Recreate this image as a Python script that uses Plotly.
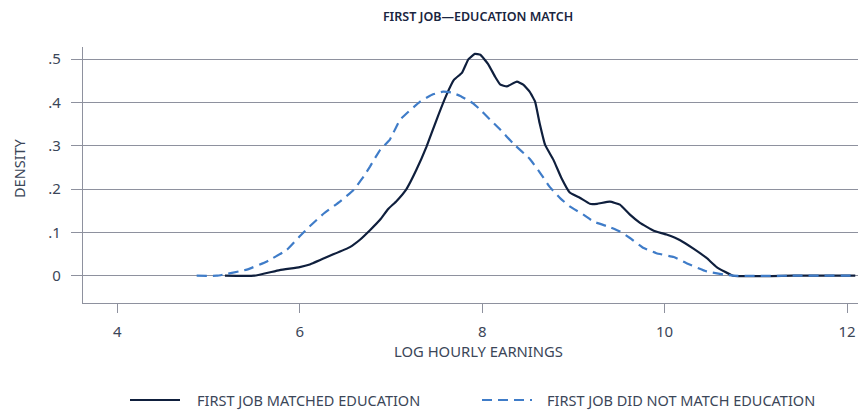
import plotly.graph_objects as go

# Kernel density of log hourly earnings, by whether the first job matched education
matched_x = [5.18, 5.5, 5.78, 6.0, 6.11, 6.33, 6.55, 6.66, 6.77, 6.88, 6.97, 7.06, 7.17,
             7.28, 7.39, 7.5, 7.61, 7.69, 7.78, 7.85, 7.92, 7.98, 8.07, 8.14, 8.2, 8.27,
             8.38, 8.45, 8.52, 8.58, 8.63, 8.69, 8.78, 8.87, 8.96, 9.07, 9.18, 9.26, 9.4,
             9.51, 9.62, 9.73, 9.88, 10.02, 10.17, 10.32, 10.46, 10.57, 10.75, 11.4, 12.09]
matched_y = [0.0, 0.0, 0.013, 0.02, 0.026, 0.046, 0.066, 0.083, 0.105, 0.129, 0.154, 0.172,
             0.2, 0.245, 0.298, 0.36, 0.418, 0.452, 0.469, 0.5, 0.512, 0.51, 0.487, 0.46,
             0.441, 0.437, 0.448, 0.441, 0.425, 0.402, 0.352, 0.302, 0.268, 0.225, 0.192,
             0.18, 0.166, 0.166, 0.171, 0.164, 0.141, 0.122, 0.104, 0.095, 0.082, 0.062,
             0.041, 0.02, 0.0, 0.0, 0.0]

unmatched_x = [4.87, 5.09, 5.42, 5.64, 5.86, 6.0, 6.11, 6.26, 6.44, 6.59, 6.7, 6.77, 6.88,
               6.99, 7.1, 7.32, 7.45, 7.57, 7.66, 7.76, 7.9, 7.98, 8.05, 8.2, 8.34, 8.52,
               8.65, 8.74, 8.86, 8.96, 9.11, 9.22, 9.4, 9.51, 9.62, 9.77, 9.91, 10.1, 10.24,
               10.46, 10.75, 11.4, 12.07]
unmatched_y = [0.0, 0.0, 0.014, 0.033, 0.06, 0.091, 0.114, 0.143, 0.171, 0.198, 0.229, 0.252,
               0.29, 0.315, 0.36, 0.402, 0.418, 0.425, 0.423, 0.415, 0.398, 0.383, 0.368,
               0.337, 0.305, 0.27, 0.233, 0.205, 0.178, 0.16, 0.141, 0.125, 0.112, 0.102,
               0.087, 0.064, 0.052, 0.043, 0.029, 0.01, 0.0, 0.0, 0.0]

x_ticks = [4, 6, 8, 10, 12]
y_ticks = [0, 0.1, 0.2, 0.3, 0.4, 0.5]
y_tick_text = ["0", ".1", ".2", ".3", ".4", ".5"]

series_names = ["FIRST JOB MATCHED EDUCATION", "FIRST JOB DID NOT MATCH EDUCATION"]

FONT = "Noto Sans"
TEXT = "#3b4658"
GRID = "#8e919e"
NAVY = "#0f1f3d"
BLUE = "#3f7cc8"
DASH = "10px,6px"

W, H = 862, 412
ML, MR, MT, MB = 83, 4, 47, 109
PW, PH = W - ML - MR, H - MT - MB


def px_x(p):
    # pixel column -> paper x
    return (p - ML) / PW


def px_y(p):
    # pixel row -> paper y
    return (H - MB - p) / PH


fig = go.Figure()
fig.add_trace(go.Scatter(
    x=matched_x, y=matched_y, mode="lines", name=series_names[0],
    line=dict(color=NAVY, width=2.2, shape="spline", smoothing=0.35),
))
fig.add_trace(go.Scatter(
    x=unmatched_x, y=unmatched_y, mode="lines", name=series_names[1],
    line=dict(color=BLUE, width=2.2, dash=DASH, shape="spline", smoothing=0.35),
))

# Legend row below the axis title
legend_y = px_y(400)
legend_items = [
    (130, 180, 195, NAVY, "solid", series_names[0]),
    (482, 532, 545, BLUE, DASH, series_names[1]),
]
for x0, x1, xt, color, dash, label in legend_items:
    fig.add_shape(type="line", xref="paper", yref="paper",
                  x0=px_x(x0), x1=px_x(x1), y0=legend_y, y1=legend_y,
                  line=dict(color=color, width=2.2, dash=dash))
    fig.add_annotation(text=label, xref="paper", yref="paper", x=px_x(xt), y=legend_y,
                       xanchor="left", yanchor="middle", showarrow=False,
                       font=dict(family=FONT, size=14.5, color=TEXT))

# Axis titles
fig.add_annotation(text="LOG HOURLY EARNINGS", xref="paper", yref="paper",
                   x=px_x(478), y=px_y(351), xanchor="center", yanchor="middle",
                   showarrow=False, font=dict(family=FONT, size=14.8, color=TEXT))
fig.add_annotation(text="DENSITY", xref="paper", yref="paper", textangle=-90,
                   x=px_x(19), y=px_y(168), xanchor="center", yanchor="middle",
                   showarrow=False, font=dict(family=FONT, size=14.5, color=TEXT))

fig.update_layout(
    width=W, height=H,
    margin=dict(l=ML, r=MR, t=MT, b=MB),
    paper_bgcolor="white", plot_bgcolor="white",
    font=dict(family=FONT, color=TEXT, size=13),
    showlegend=False,
    title=dict(text="FIRST JOB\u2014EDUCATION MATCH", x=478 / W, xanchor="center",
               y=1 - 17 / H, yanchor="middle",
               font=dict(family=FONT, size=12.5, color="#1a2540", weight=600)),
)

fig.update_xaxes(
    range=[3.624, 12.12], tickvals=x_ticks, showgrid=False, zeroline=False,
    showline=True, linecolor=GRID, linewidth=1.3,
    ticks="outside", ticklen=9, tickcolor=GRID, tickwidth=1.3,
    ticklabelstandoff=6,
    tickfont=dict(size=15, color=TEXT),
)
fig.update_yaxes(
    range=[-0.063, 0.528], tickvals=y_ticks, ticktext=y_tick_text,
    showgrid=True, gridcolor=GRID, gridwidth=1.3, zeroline=False,
    showline=True, linecolor=GRID, linewidth=1.3,
    ticks="outside", ticklen=11, tickcolor=GRID, tickwidth=1.3,
    ticklabelstandoff=7,
    tickfont=dict(size=15, color=TEXT),
)

fig.write_html("out.html")
